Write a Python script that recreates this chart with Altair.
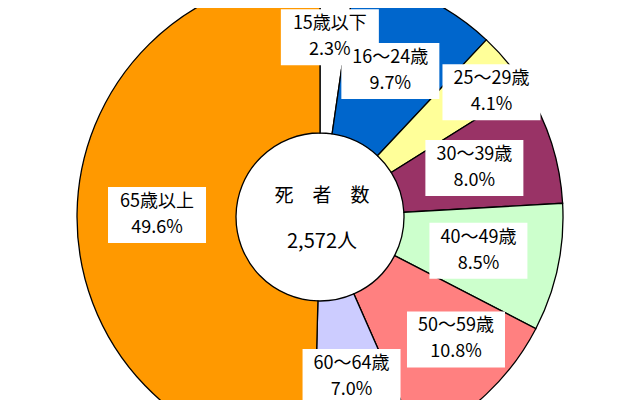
import altair as alt
import pandas as pd

# ---- data ----
categories = ["15歳以下", "16～24歳", "25～29歳", "30～39歳", "40～49歳", "50～59歳", "60～64歳", "65歳以上"]
shares = [2.3, 9.7, 4.1, 8.0, 8.5, 10.8, 7.0, 49.6]
colors = ["#FFFFFF", "#0066CC", "#FFFF99", "#993366", "#CCFFCC", "#FF8080", "#CCCCFF", "#FF9900"]
center_title = ["死　者　数"]
total_deaths = [2572]

# ---- label layout (placement tweaks, not data) ----
label_shift_deg = [-1.0, 0.0, 3.4, 0.0, 0.0, -4.8, 0.0, 0.0]
label_radius = [180, 162, 212, 162, 162, 183, 163, 163]

CX, CY = 312, 209
R_IN, R_OUT = 84, 243
BOX_W, BOX_H = 98, 56
FONT = "Noto Sans CJK JP"
FS = 18
HALF_GAP = 13

df = pd.DataFrame({
    "cat": categories,
    "share": shares,
    "order": list(range(len(categories))),
    "shift": label_shift_deg,
    "rad": label_radius,
})

base = alt.Chart(df)

arcs = base.mark_arc(innerRadius=R_IN, outerRadius=R_OUT, stroke="#000000", strokeWidth=1.3).encode(
    theta=alt.Theta("share:Q", stack=True),
    color=alt.Color("cat:N", scale=alt.Scale(domain=categories, range=colors), legend=None),
    order=alt.Order("order:Q"),
    x=alt.value(CX),
    y=alt.value(CY),
)

lab = base.transform_joinaggregate(
    total="sum(share)"
).transform_window(
    cum="sum(share)", sort=[alt.SortField("order", order="ascending")], frame=[None, 0]
).transform_calculate(
    ang="(datum.cum - datum.share / 2) / datum.total * 2 * PI + datum.shift * PI / 180",
    pct="format(datum.share, '.1f') + '%'",
).transform_calculate(
    px=f"{CX} + datum.rad * sin(datum.ang)",
    py=f"{CY} - datum.rad * cos(datum.ang)",
).transform_calculate(
    bx1=f"datum.px - {BOX_W / 2}",
    bx2=f"datum.px + {BOX_W / 2}",
    by1=f"datum.py - {BOX_H / 2}",
    by2=f"datum.py + {BOX_H / 2}",
)

boxes = lab.mark_rect(color="#FFFFFF").encode(
    x=alt.X("bx1:Q", scale=None, axis=None),
    x2="bx2:Q",
    y=alt.Y("by1:Q", scale=None, axis=None),
    y2="by2:Q",
)

txt1 = lab.mark_text(font=FONT, fontSize=FS, color="#000000", baseline="middle", dy=-HALF_GAP).encode(
    x=alt.X("px:Q", scale=None, axis=None),
    y=alt.Y("py:Q", scale=None, axis=None),
    text="cat:N",
)
txt2 = lab.mark_text(font=FONT, fontSize=FS, color="#000000", baseline="middle", dy=HALF_GAP).encode(
    x=alt.X("px:Q", scale=None, axis=None),
    y=alt.Y("py:Q", scale=None, axis=None),
    text="pct:N",
)

cdf = pd.DataFrame({"title": center_title, "total": total_deaths})
ctitle = alt.Chart(cdf).mark_text(font=FONT, fontSize=19, color="#000000", dy=-21, baseline="middle").encode(
    x=alt.value(CX + 2), y=alt.value(CY), text="title:N"
)
ctotal = alt.Chart(cdf).transform_calculate(
    lbl="format(datum.total, ',') + '人'"
).mark_text(font=FONT, fontSize=20, color="#000000", dy=25, baseline="middle").encode(
    x=alt.value(CX + 2), y=alt.value(CY), text="lbl:N"
)

chart = alt.layer(arcs, boxes, txt1, txt2, ctitle, ctotal).resolve_scale(
    x="independent", y="independent"
).properties(
    width=624, height=392, padding=0,
    autosize=alt.AutoSizeParams(type="none"),
    background="#FFFFFF",
).configure_view(strokeWidth=0)

chart.save("out.html", embed_options={"renderer": "svg", "actions": False})
